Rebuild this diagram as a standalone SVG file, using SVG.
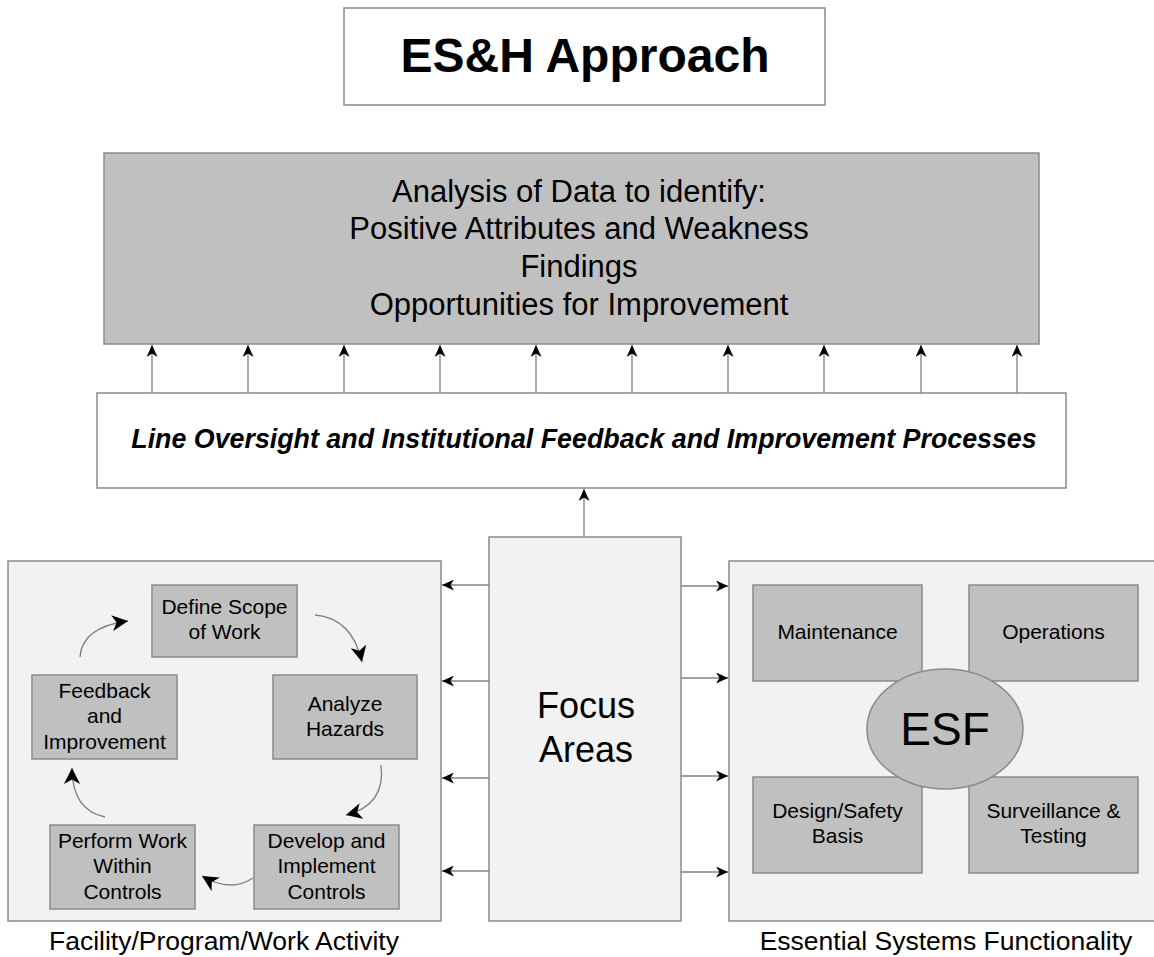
<svg xmlns="http://www.w3.org/2000/svg" width="1154" height="957" viewBox="0 0 1154 957">
  <style>
    text { font-family: "Liberation Sans", Arial, sans-serif; fill: #000; text-anchor: middle; }
    .box { stroke: #8a8a8a; stroke-width: 1.5; }
    .white { fill: #ffffff; }
    .gray { fill: #c0c0c0; }
    .panel { fill: #f2f2f2; }
    .line { fill: none; stroke: #808080; stroke-width: 1.3; }
    .curve { fill: none; stroke: #808080; stroke-width: 1.3; }
    .t21 { font-size: 21px; }
  </style>
  <defs>
    <marker id="head" markerUnits="userSpaceOnUse" markerWidth="13" markerHeight="11" refX="12" refY="5.5" orient="auto">
      <path d="M0,0 L12,5.5 L0,11 L3.5,5.5 Z" fill="#000"/>
    </marker>
    <marker id="headLg" markerUnits="userSpaceOnUse" markerWidth="17" markerHeight="16" refX="16" refY="8" orient="auto">
      <path d="M0,0 L16,8 L0,16 L4.5,8 Z" fill="#000"/>
    </marker>
  </defs>

  <!-- title -->
  <g id="title">
    <rect class="box white" x="344" y="8" width="481" height="97"/>
    <text x="585" y="72" font-size="48" font-weight="bold">ES&amp;H Approach</text>
  </g>

  <!-- analysis results -->
  <g id="analysis">
    <rect class="box gray" x="104" y="153" width="935" height="191"/>
    <text x="579" y="202" font-size="31">Analysis of Data to identify:</text>
    <text x="579" y="239" font-size="31">Positive Attributes and Weakness</text>
    <text x="579" y="277" font-size="31">Findings</text>
    <text x="579" y="315" font-size="31">Opportunities for Improvement</text>
  </g>

  <!-- oversight processes -->
  <g id="oversight">
    <rect class="box white" x="97" y="393" width="969" height="95"/>
    <text x="584" y="448" font-size="26.8" font-weight="bold" font-style="italic">Line Oversight and Institutional Feedback and Improvement Processes</text>
  </g>

  <!-- left panel: work activity cycle -->
  <g id="facility-panel">
    <rect class="box panel" x="8" y="561" width="433" height="360"/>
    <text x="224" y="950" font-size="26.5">Facility/Program/Work Activity</text>
  </g>
  <g id="define-scope">
    <rect class="box gray" x="152" y="585" width="145" height="72"/>
    <text class="t21" x="224.5" y="614">Define Scope</text>
    <text class="t21" x="224.5" y="639">of Work</text>
  </g>
  <g id="analyze-hazards">
    <rect class="box gray" x="273" y="675" width="144" height="84"/>
    <text class="t21" x="345" y="711">Analyze</text>
    <text class="t21" x="345" y="736">Hazards</text>
  </g>
  <g id="develop-controls">
    <rect class="box gray" x="254" y="825" width="145" height="84"/>
    <text class="t21" x="326.5" y="848">Develop and</text>
    <text class="t21" x="326.5" y="873">Implement</text>
    <text class="t21" x="326.5" y="899">Controls</text>
  </g>
  <g id="perform-work">
    <rect class="box gray" x="50" y="825" width="145" height="84"/>
    <text class="t21" x="122.5" y="848">Perform Work</text>
    <text class="t21" x="122.5" y="873">Within</text>
    <text class="t21" x="122.5" y="899">Controls</text>
  </g>
  <g id="feedback">
    <rect class="box gray" x="32" y="675" width="145" height="84"/>
    <text class="t21" x="104.5" y="698">Feedback</text>
    <text class="t21" x="104.5" y="723">and</text>
    <text class="t21" x="104.5" y="749">Improvement</text>
  </g>

  <!-- focus areas -->
  <g id="focus-areas">
    <rect class="box panel" x="489" y="537" width="192" height="384"/>
    <text x="586" y="718" font-size="36">Focus</text>
    <text x="586" y="762" font-size="36">Areas</text>
  </g>

  <!-- right panel: essential systems -->
  <g id="esf-panel">
    <rect class="box panel" x="729" y="561" width="430" height="360"/>
    <text x="946" y="950" font-size="26.5">Essential Systems Functionality</text>
  </g>
  <g id="maintenance">
    <rect class="box gray" x="753" y="585" width="169" height="96"/>
    <text class="t21" x="837.5" y="639">Maintenance</text>
  </g>
  <g id="operations">
    <rect class="box gray" x="969" y="585" width="169" height="96"/>
    <text class="t21" x="1053.5" y="639">Operations</text>
  </g>
  <g id="design-basis">
    <rect class="box gray" x="753" y="777" width="169" height="96"/>
    <text class="t21" x="837.5" y="818">Design/Safety</text>
    <text class="t21" x="837.5" y="843">Basis</text>
  </g>
  <g id="surveillance">
    <rect class="box gray" x="969" y="777" width="169" height="96"/>
    <text class="t21" x="1053.5" y="818">Surveillance &amp;</text>
    <text class="t21" x="1053.5" y="843">Testing</text>
  </g>
  <g id="esf">
    <ellipse class="box gray" cx="945" cy="729" rx="78" ry="60"/>
    <text x="945" y="745" font-size="46">ESF</text>
  </g>

  <!-- connectors -->
  <g id="connectors">
    <!-- oversight up to analysis -->
    <path class="line" marker-end="url(#head)" d="M152,393 V345"/>
    <path class="line" marker-end="url(#head)" d="M248,393 V345"/>
    <path class="line" marker-end="url(#head)" d="M344,393 V345"/>
    <path class="line" marker-end="url(#head)" d="M440,393 V345"/>
    <path class="line" marker-end="url(#head)" d="M536,393 V345"/>
    <path class="line" marker-end="url(#head)" d="M632,393 V345"/>
    <path class="line" marker-end="url(#head)" d="M728,393 V345"/>
    <path class="line" marker-end="url(#head)" d="M824,393 V345"/>
    <path class="line" marker-end="url(#head)" d="M921,393 V345"/>
    <path class="line" marker-end="url(#head)" d="M1017,393 V345"/>
    <!-- focus areas up to oversight -->
    <path class="line" marker-end="url(#head)" d="M584,537 V489"/>
    <!-- focus areas to left panel -->
    <path class="line" marker-end="url(#head)" d="M489,585 H442"/>
    <path class="line" marker-end="url(#head)" d="M489,681 H442"/>
    <path class="line" marker-end="url(#head)" d="M489,778 H442"/>
    <path class="line" marker-end="url(#head)" d="M489,871 H442"/>
    <!-- focus areas to right panel -->
    <path class="line" marker-end="url(#head)" d="M681,586 H728"/>
    <path class="line" marker-end="url(#head)" d="M681,678 H728"/>
    <path class="line" marker-end="url(#head)" d="M681,776 H728"/>
    <path class="line" marker-end="url(#head)" d="M681,872 H728"/>
    <!-- work cycle -->
    <path class="curve" marker-end="url(#headLg)" d="M315,615 Q352,618 362,662"/>
    <path class="curve" marker-end="url(#headLg)" d="M381,765 Q386,805 346,815"/>
    <path class="curve" marker-end="url(#headLg)" d="M253,878 Q230,893 202,876"/>
    <path class="curve" marker-end="url(#headLg)" d="M105,817 Q72,810 72,768"/>
    <path class="curve" marker-end="url(#headLg)" d="M80,657 Q82,627 128,621"/>
  </g>
</svg>
